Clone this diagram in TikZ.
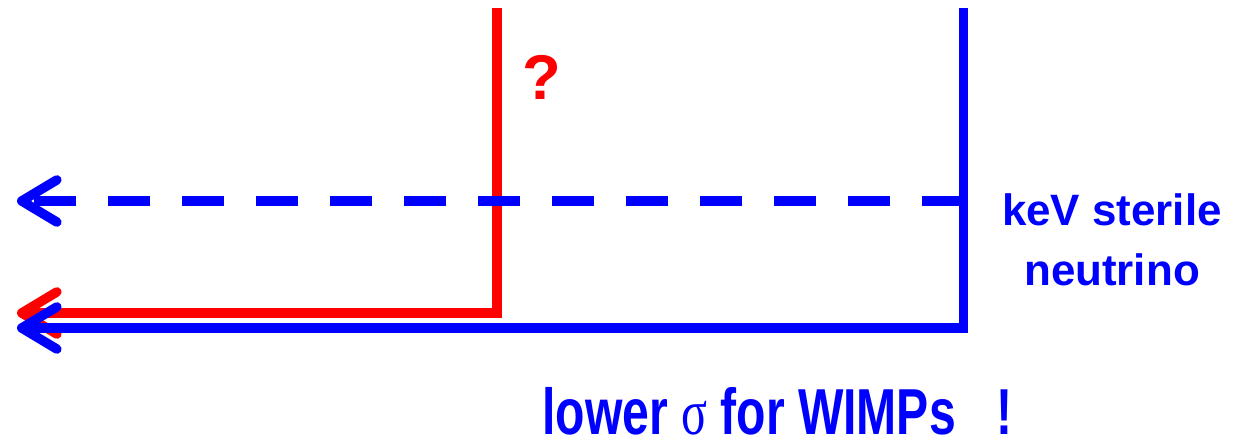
\documentclass[tikz,border=0pt]{standalone}
\usepackage{fontspec}
\setmainfont{Liberation Sans}
\newfontfamily\symfont{Liberation Serif}
\usepackage{xcolor}
\usepackage{tikz}
\usetikzlibrary{positioning, arrows.meta}

\begin{document}
\begin{tikzpicture}[x=0.02cm, y=-0.02cm,
    flow/.style={line width=5.4pt, line join=miter,
      -{Straight Barb[length=20pt, width=24pt, line width=5.4pt, round]}},
    label/.style={font=\bfseries, inner sep=0pt}]
  \useasboundingbox (0,0) rectangle (1251,445);
  % Points
  \coordinate (redtop) at (497,8);
  \coordinate (redend) at (17,313);
  \coordinate (bluetop) at (963.5,8);
  \coordinate (blueend) at (17,328);
  \coordinate (dashstart) at (963.5,201);
  \coordinate (dashend) at (17,201);
  % Red line
  \draw[flow, red] (redtop) |- (redend);
  % Blue lines
  \draw[flow, blue] (bluetop) |- (blueend);
  \draw[flow, blue, dash pattern=on 23.8pt off 18.3pt] (dashstart) -- (dashend);
  % Labels
  \node[label, red, font=\bfseries\fontsize{36}{40}\selectfont] (question) at (542,77) {?};
  \node[label, blue, align=center, font=\bfseries\fontsize{25}{34}\selectfont]
    (sterile) at (1112,240) {keV sterile\\neutrino};
  \node[label, blue, anchor=base west] (wimps) at (542,435)
    {\scalebox{0.74}[1]{\fontsize{37}{40}\selectfont lower {\symfont\mdseries σ} for WIMPs\hspace{0.85em}!}};
\end{tikzpicture}
\end{document}
